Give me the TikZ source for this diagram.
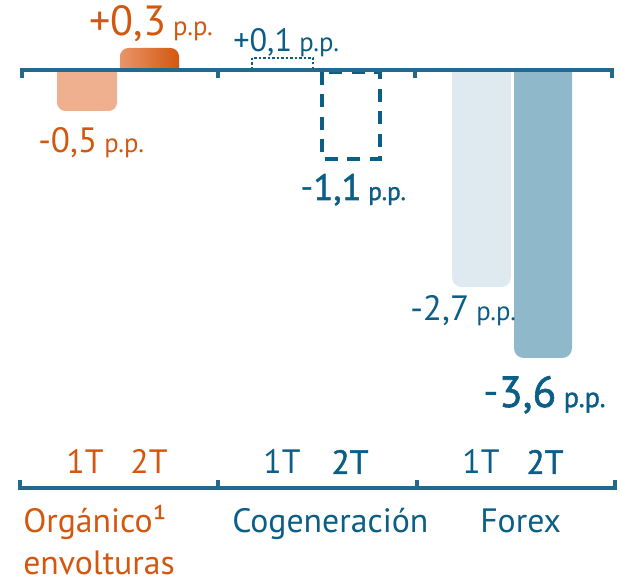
\documentclass[tikz,border=0pt]{standalone}
\usepackage{fontspec}
\setmainfont{PT Sans}
\newfontfamily\semib[FakeBold=1.4]{PT Sans}
\definecolor{naranja}{HTML}{D4570F}
\definecolor{naranjaclaro}{HTML}{EFB08F}
\definecolor{naranjamed}{HTML}{E8956A}
\definecolor{azul}{HTML}{0B5E86}
\definecolor{eje}{HTML}{22698D}
\definecolor{azulclaro}{HTML}{DFE9F0}
\definecolor{azulmed}{HTML}{90B8CB}
\newcommand{\pp}[1]{{\fontsize{#1}{#1}\selectfont\ p.p.}}

\begin{document}
\begin{tikzpicture}[
    x=0.025cm, y=-0.025cm,
    axis/.style={draw=eje,line width=2.2pt},
    val/.style={anchor=base west,inner sep=0pt,text=azul},
    cat/.style={anchor=base west,inner sep=0pt,text=azul,font=\fontsize{24}{31}\selectfont},
    trim/.style={anchor=base,inner sep=0pt,text=azul,font=\fontsize{24}{31}\selectfont}
]
    \useasboundingbox (0,0) rectangle (621,583);

    % Define bars
    \fill[naranjaclaro] (57,70) [rounded corners=6] -- (57,111) -- (117,111) [sharp corners] -- (117,70) -- cycle;
    \shade[left color=naranjamed,right color=naranja] (120,70) [rounded corners=6] -- (120,48) -- (179,48) [sharp corners] -- (179,70) -- cycle;
    \draw[azul,line width=1.7pt,dash pattern=on 1.6pt off 1.6pt] (252,58) rectangle (313,69);
    \draw[azul,dashed,line width=2.2pt,dash pattern=on 9pt off 7pt] (322,72) rectangle (380,159);
    \fill[azulclaro] (452,70) [rounded corners=7] -- (452,287) -- (511,287) [sharp corners] -- (511,70) -- cycle;
    \fill[azulmed] (514,70) [rounded corners=7] -- (514,358) -- (572,358) [sharp corners] -- (572,70) -- cycle;

    % Draw axes
    \draw[axis] (22,78) -- (22,70) -- (612,70) -- (612,78);
    \foreach \x in {218,415} \draw[axis] (\x,70) -- (\x,78);
    \draw[axis] (20,480) -- (20,488) -- (615,488) -- (615,480);
    \foreach \x in {218,417} \draw[axis] (\x,488) -- (\x,480);

    % Values
    \node[val,text=naranja,font=\fontsize{30}{30}\selectfont] (v2a) at (89,36) {+0,3\pp{19}};
    \node[val,text=naranja,font=\fontsize{25}{25}\selectfont] (v1a) at (38,153) {-0,5\pp{19}};
    \node[val,font=\fontsize{23}{23}\selectfont] (v2b) at (233,52) {+0,1\pp{19}};
    \node[val,font=\fontsize{26}{26}\selectfont] (v1b) at (300,200) {-{\semib 1,1\pp{18}}};
    \node[val,font=\fontsize{25}{25}\selectfont] (v1c) at (410,321) {-2,7\pp{19}};
    \node[val,font=\fontsize{31}{31}\selectfont] (v2c) at (483,407) {-{\semib 3,6\pp{20}}};

    % Quarter labels
    \node[trim,text=naranja] (t1a) at (85,474) {1T};
    \node[trim,text=naranja] (t2a) at (149,474) {2T};
    \node[trim] (t1b) at (282,474) {1T};
    \node[trim,font=\fontsize{24}{31}\selectfont\semib] (t2b) at (350,474) {2T};
    \node[trim] (t1c) at (481,474) {1T};
    \node[trim,font=\fontsize{24}{31}\selectfont\semib] (t2c) at (545,474) {2T};

    % Categories
    \node[cat,text=naranja] (org) at (23,533) {Orgánico¹};
    \node[cat,text=naranja] (env) at (23,575) {envolturas};
    \node[cat] (cog) at (232,533) {Cogeneración};
    \node[cat] (fx) at (480,533) {Forex};
\end{tikzpicture}
\end{document}
